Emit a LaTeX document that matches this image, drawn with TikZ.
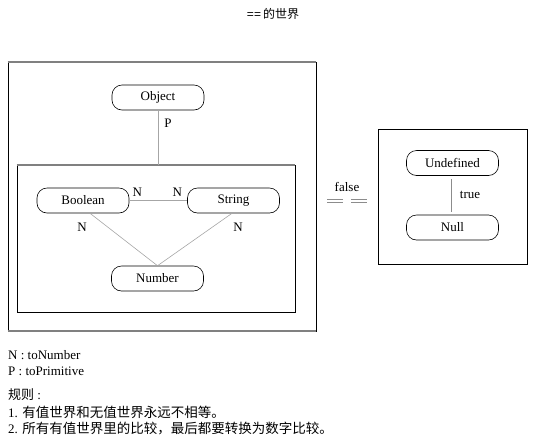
\documentclass[tikz,border=0pt]{standalone}
\usepackage{fontspec}
\setmainfont{Liberation Serif}
\newfontfamily\cjk{Noto Sans CJK SC}
\newfontfamily\titlefont{Liberation Sans}
\usepackage{tikz}
\usetikzlibrary{arrows,shapes}

\begin{document}
\begin{tikzpicture}[x=1pt, y=-1pt]
	\tikzstyle{every node} = [font=\fontsize{13}{15}\selectfont, inner sep=0pt]
	\tikzstyle{typ}    = [draw, rounded corners=10pt, minimum width=92pt, minimum height=25pt, line width=.6pt]
	\tikzstyle{world}  = [draw, line width=.6pt]
	\tikzstyle{topline} = [draw=black!50, line width=2pt]
	\tikzstyle{conv}   = [draw=black!35, line width=.6pt]
	\tikzstyle{eq}     = [draw=black!45, line width=.9pt, double, double distance=2pt]
	\tikzstyle{legend} = [anchor=west, font=\fontsize{13}{15}\selectfont]
	\useasboundingbox (0,0) rectangle (546,440);
	\node (title) at (273,14) {\titlefont\fontsize{12}{14}\selectfont ==\,\cjk 的世界};
	\node (outer) [world, minimum width=308pt, minimum height=269pt] at (162,196.5) {};
	\node (inner) [world, minimum width=278pt, minimum height=147pt] at (156,238.5) {};
	\node (none)  [world, minimum width=149pt, minimum height=135pt] at (452.5,196.5) {};
	\draw [topline] (outer.north west) -- (outer.north east);
	\draw [topline] (outer.south west) -- (outer.south east);
	\draw [topline] (inner.north west) -- (inner.north east);
	\node (obj)   [typ] at (158,97.5)   {Object};
	\node (bool)  [typ] at (83,200.5)   {Boolean};
	\node (str)   [typ] at (233.5,200.5) {String};
	\node (num)   [typ] at (157.5,278.5) {Number};
	\node (undef) [typ] at (452.5,163)  {Undefined};
	\node (null)  [typ] at (452.5,227.5) {Null};
	\draw [conv] (obj.south) -- node[at start, xshift=10pt, yshift=-13pt] {P} (obj.south |- inner.north);
	\draw [conv] (bool.east) -- node[at start, xshift=8pt, yshift=8.5pt] {N}
		node[at end, xshift=-10pt, yshift=8.5pt] {N} (str.west);
	\draw [conv] ([xshift=7pt]bool.south) -- node[at start, xshift=-8pt, yshift=-14pt] {N} (num.north);
	\draw [conv] ([xshift=-1.5pt]str.south) -- node[at start, xshift=6pt, yshift=-14pt] {N} (num.north);
	\draw [eq] ([yshift=-3pt]undef.south) -- node[at start, xshift=17.5pt, yshift=-16.5pt] {true} ([yshift=3pt]null.north);
	\draw [eq, dash pattern=on 0pt off 11pt on 16pt off 8pt on 16pt off 11pt]
		([yshift=-4.5pt]outer.east) -- node[midway, yshift=14pt] {false} ([yshift=-4.5pt]none.west);
	\node (legn) [legend] at (8,355) {N : toNumber};
	\node (legp) [legend] at (8,371) {P : toPrimitive};
	\node (rule) [legend] at (8,395) {{\cjk 规则} :};
	\node (rule1) [legend] at (8,412) {1. {\cjk\fontsize{13.5}{15}\selectfont 有值世界和无值世界永远不相等。}};
	\node (rule2) [legend] at (8,428) {2. {\cjk\fontsize{13.5}{15}\selectfont 所有有值世界里的比较，最后都要转换为数字比较。}};
\end{tikzpicture}
\end{document}
